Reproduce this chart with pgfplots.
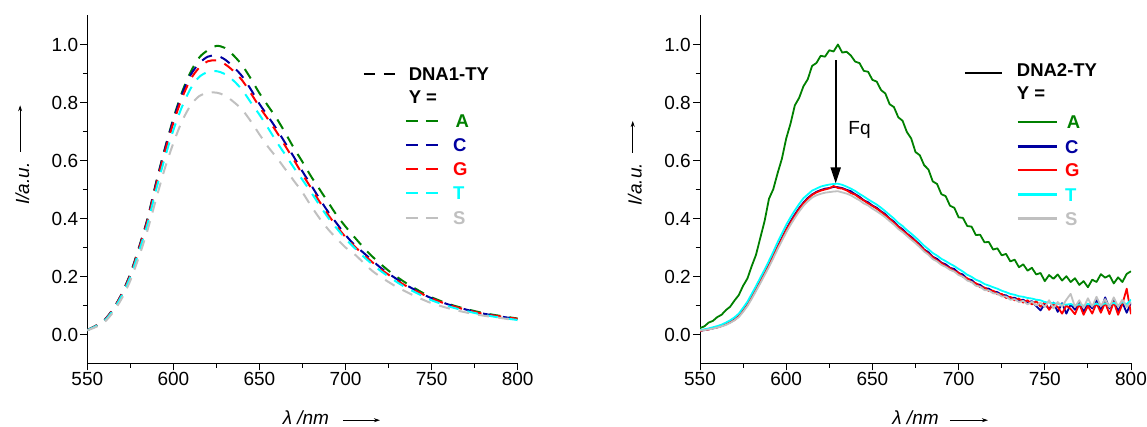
\documentclass[border=0pt]{standalone}
\usepackage{fontspec}
\setmainfont{Liberation Sans}
\usepackage{pgfplots}
\pgfplotsset{compat=1.18}
\usepackage{pgfplotstable}
\usetikzlibrary{arrows.meta}

\definecolor{cA}{RGB}{0,128,0}
\definecolor{cC}{RGB}{0,0,160}
\definecolor{cG}{RGB}{255,0,0}
\definecolor{cT}{RGB}{0,255,255}
\definecolor{cS}{RGB}{192,192,192}

\pgfplotstableread{
lam A C G T S
550 0.015 0.015 0.015 0.015 0.014
555 0.030 0.030 0.030 0.029 0.026
560 0.050 0.050 0.049 0.047 0.043
565 0.088 0.088 0.087 0.084 0.077
570 0.140 0.140 0.138 0.134 0.124
575 0.210 0.208 0.205 0.199 0.186
580 0.300 0.298 0.294 0.286 0.268
585 0.400 0.398 0.393 0.382 0.360
590 0.525 0.522 0.515 0.500 0.468
595 0.640 0.637 0.628 0.608 0.572
600 0.745 0.740 0.730 0.705 0.660
605 0.835 0.828 0.815 0.785 0.735
610 0.905 0.895 0.880 0.848 0.790
615 0.955 0.935 0.920 0.888 0.822
620 0.980 0.958 0.942 0.905 0.834
625 0.995 0.962 0.945 0.908 0.834
630 0.988 0.948 0.932 0.898 0.824
635 0.962 0.922 0.908 0.875 0.802
640 0.928 0.890 0.876 0.843 0.775
645 0.882 0.845 0.832 0.800 0.735
650 0.832 0.795 0.785 0.758 0.690
655 0.788 0.752 0.742 0.712 0.647
660 0.745 0.708 0.698 0.664 0.610
665 0.695 0.660 0.650 0.620 0.570
670 0.643 0.612 0.602 0.575 0.530
675 0.595 0.562 0.552 0.533 0.490
680 0.545 0.515 0.505 0.490 0.443
685 0.500 0.467 0.457 0.445 0.400
690 0.455 0.422 0.412 0.402 0.362
695 0.410 0.382 0.372 0.365 0.330
700 0.372 0.343 0.336 0.330 0.300
705 0.337 0.310 0.305 0.300 0.278
710 0.303 0.284 0.278 0.271 0.250
715 0.272 0.258 0.252 0.245 0.222
720 0.245 0.232 0.227 0.221 0.200
725 0.220 0.210 0.206 0.200 0.181
730 0.198 0.190 0.186 0.180 0.163
735 0.178 0.171 0.168 0.162 0.148
740 0.160 0.155 0.153 0.147 0.133
745 0.143 0.139 0.138 0.132 0.120
750 0.128 0.125 0.124 0.118 0.108
760 0.105 0.103 0.102 0.097 0.090
770 0.088 0.086 0.085 0.081 0.076
780 0.074 0.072 0.071 0.068 0.065
790 0.064 0.062 0.062 0.058 0.057
800 0.055 0.053 0.054 0.050 0.048
}\leftdata

\pgfplotstableread{
lam A C G T S
550 0.022 0.013 0.012 0.015 0.014
552.5 0.028 0.015 0.016 0.018 0.015
555 0.041 0.018 0.017 0.021 0.018
557.5 0.047 0.021 0.022 0.025 0.020
560 0.060 0.025 0.024 0.029 0.024
562.5 0.068 0.030 0.029 0.034 0.028
565 0.084 0.035 0.036 0.041 0.033
567.5 0.096 0.043 0.042 0.049 0.040
570 0.117 0.052 0.050 0.059 0.049
572.5 0.136 0.064 0.063 0.072 0.060
575 0.168 0.083 0.082 0.092 0.078
577.5 0.193 0.103 0.101 0.113 0.098
580 0.236 0.129 0.128 0.140 0.123
582.5 0.275 0.156 0.154 0.167 0.150
585 0.334 0.184 0.183 0.196 0.177
587.5 0.392 0.212 0.210 0.224 0.205
590 0.468 0.241 0.239 0.254 0.233
592.5 0.501 0.271 0.270 0.285 0.263
595 0.556 0.303 0.301 0.318 0.294
597.5 0.606 0.333 0.330 0.348 0.323
600 0.676 0.363 0.361 0.378 0.352
602.5 0.727 0.390 0.386 0.404 0.378
605 0.790 0.414 0.410 0.428 0.402
607.5 0.816 0.436 0.433 0.450 0.424
610 0.856 0.455 0.452 0.470 0.444
612.5 0.880 0.471 0.468 0.483 0.459
615 0.926 0.483 0.481 0.496 0.472
617.5 0.936 0.492 0.490 0.503 0.480
620 0.961 0.498 0.496 0.510 0.485
622.5 0.958 0.503 0.500 0.514 0.489
625 0.980 0.505 0.504 0.517 0.491
627.5 0.976 0.509 0.512 0.519 0.493
630 1.000 0.508 0.505 0.520 0.494
632.5 0.972 0.505 0.503 0.516 0.490
635 0.975 0.499 0.497 0.510 0.486
637.5 0.962 0.494 0.488 0.503 0.480
640 0.941 0.484 0.482 0.495 0.471
642.5 0.936 0.475 0.471 0.485 0.463
645 0.909 0.463 0.462 0.476 0.452
647.5 0.906 0.456 0.452 0.466 0.445
650 0.878 0.445 0.443 0.457 0.434
652.5 0.872 0.437 0.434 0.448 0.425
655 0.843 0.425 0.423 0.437 0.415
657.5 0.831 0.415 0.411 0.425 0.404
660 0.794 0.400 0.399 0.412 0.391
662.5 0.784 0.389 0.385 0.400 0.379
665 0.749 0.373 0.372 0.385 0.364
667.5 0.737 0.363 0.358 0.374 0.353
670 0.698 0.348 0.347 0.360 0.340
672.5 0.676 0.337 0.333 0.348 0.327
675 0.629 0.323 0.322 0.335 0.315
677.5 0.618 0.310 0.306 0.321 0.301
680 0.584 0.293 0.292 0.306 0.286
682.5 0.569 0.284 0.279 0.294 0.275
685 0.528 0.268 0.267 0.281 0.260
687.5 0.519 0.261 0.255 0.272 0.252
690 0.484 0.248 0.247 0.261 0.240
692.5 0.477 0.242 0.236 0.253 0.233
695 0.444 0.230 0.229 0.244 0.223
697.5 0.437 0.226 0.219 0.236 0.217
700 0.404 0.212 0.213 0.226 0.205
702.5 0.402 0.207 0.199 0.217 0.199
705 0.374 0.192 0.194 0.206 0.186
707.5 0.372 0.188 0.181 0.199 0.181
710 0.343 0.175 0.177 0.189 0.168
712.5 0.344 0.171 0.163 0.183 0.165
715 0.318 0.160 0.162 0.174 0.153
717.5 0.319 0.158 0.150 0.169 0.152
720 0.293 0.149 0.151 0.163 0.142
722.5 0.297 0.146 0.139 0.158 0.141
725 0.273 0.137 0.140 0.151 0.131
727.5 0.278 0.135 0.126 0.146 0.131
730 0.252 0.126 0.130 0.140 0.120
732.5 0.258 0.127 0.118 0.137 0.122
735 0.232 0.118 0.124 0.132 0.112
737.5 0.242 0.120 0.110 0.130 0.116
740 0.220 0.110 0.118 0.126 0.104
742.5 0.230 0.115 0.104 0.124 0.113
745 0.207 0.098 0.115 0.120 0.100
747.5 0.212 0.083 0.096 0.118 0.110
750 0.184 0.105 0.112 0.112 0.095
752.5 0.205 0.088 0.085 0.110 0.118
755 0.192 0.110 0.105 0.108 0.090
757.5 0.207 0.078 0.095 0.106 0.112
760 0.186 0.108 0.072 0.104 0.096
762.5 0.201 0.072 0.100 0.103 0.120
765 0.181 0.104 0.088 0.105 0.140
767.5 0.194 0.085 0.070 0.100 0.095
770 0.171 0.112 0.105 0.104 0.118
772.5 0.184 0.078 0.068 0.099 0.092
775 0.163 0.106 0.098 0.106 0.125
777.5 0.189 0.090 0.072 0.101 0.096
780 0.181 0.118 0.108 0.107 0.130
782.5 0.208 0.082 0.075 0.100 0.098
785 0.196 0.128 0.110 0.108 0.122
787.5 0.204 0.090 0.070 0.102 0.094
790 0.176 0.120 0.112 0.110 0.128
792.5 0.197 0.080 0.068 0.100 0.096
795 0.181 0.110 0.105 0.112 0.120
797.5 0.209 0.075 0.158 0.104 0.095
800 0.218 0.110 0.070 0.120 0.112
}\rightdata

\pgfplotsset{
  myaxis/.style={
    scale only axis, height=348pt,
    xmin=550, xmax=800, ymin=-0.1, ymax=1.1,
    axis x line*=bottom, axis y line*=left,
    tick align=outside,
    xtick={550,600,650,700,750,800},
    ytick={0,0.2,0.4,0.6,0.8,1.0},
    minor x tick num=1, minor y tick num=1,
    major tick length=7pt, minor tick length=4.3pt,
    every tick/.style={black, line width=1pt},
    axis line style={line width=1pt},
    tick label style={font=\fontsize{19}{23}\selectfont},
    /pgf/number format/assume math mode=true,
    yticklabel style={/pgf/number format/fixed,/pgf/number format/fixed zerofill,/pgf/number format/precision=1, inner sep=2pt},
    xticklabel style={inner sep=2pt},
    label style={font=\fontsize{19}{23}\selectfont},
    clip mode=individual,
  },
  dcurve/.style={line width=2pt, dash pattern=on 11pt off 9pt, line join=round, smooth},
  scurve/.style={line width=1.8pt, line join=round},
}

\begin{document}
\begin{tikzpicture}
\useasboundingbox (0,0) rectangle (1147pt,427pt);

% ---------------- left panel ----------------
\begin{axis}[myaxis, at={(87.3pt,63.5pt)}, anchor=south west, width=430.4pt,
  ylabel={\textit{I/a.u.}},
  ylabel style={at={(axis description cs:-0.151,0.517)}, anchor=center},
  xlabel={\textit{λ /nm}},
  xlabel style={at={(axis description cs:0.508,-0.157)}, anchor=center},
]
\addplot[dcurve, cA] table[x=lam, y=A] {\leftdata};
\addplot[dcurve, cC] table[x=lam, y=C] {\leftdata};
\addplot[dcurve, cG] table[x=lam, y=G] {\leftdata};
\addplot[dcurve, cT] table[x=lam, y=T] {\leftdata};
\addplot[dcurve, cS] table[x=lam, y=S] {\leftdata};

\draw[-{Stealth[length=6pt,width=4pt]}, line width=0.9pt] (axis description cs:-0.156,0.608) -- (axis description cs:-0.156,0.742);
\draw[-{Stealth[length=6pt,width=4pt]}, line width=0.9pt] (axis description cs:0.594,-0.163) -- (axis description cs:0.680,-0.163);

% legend
\draw[black, line width=2.2pt, dash pattern=on 11.7pt off 8.3pt] (axis cs:710.6,0.898) -- (axis cs:729,0.898);
\node[anchor=base west, inner sep=0pt, font=\bfseries\fontsize{18.5}{22}\selectfont] at (axis cs:736.6,0.875) {DNA1-TY};
\node[anchor=base west, inner sep=0pt, font=\bfseries\fontsize{18.5}{22}\selectfont] at (axis cs:736.6,0.795) {Y =};
\draw[cA, line width=2.2pt, dash pattern=on 11.7pt off 8.3pt] (axis cs:735.1,0.736) -- (axis cs:754.1,0.736);
\draw[cC, line width=2.2pt, dash pattern=on 11.7pt off 8.3pt] (axis cs:735.1,0.653) -- (axis cs:754.1,0.653);
\draw[cG, line width=2.2pt, dash pattern=on 11.7pt off 8.3pt] (axis cs:735.1,0.570) -- (axis cs:754.1,0.570);
\draw[cT, line width=2.2pt, dash pattern=on 11.7pt off 8.3pt] (axis cs:735.1,0.487) -- (axis cs:754.1,0.487);
\draw[cS, line width=2.2pt, dash pattern=on 11.7pt off 8.3pt] (axis cs:735.1,0.403) -- (axis cs:754.1,0.403);
\node[anchor=base west, inner sep=0pt, text=cA, font=\bfseries\fontsize{18.5}{22}\selectfont] at (axis cs:763.8,0.713) {A};
\node[anchor=base west, inner sep=0pt, text=cC, font=\bfseries\fontsize{18.5}{22}\selectfont] at (axis cs:762.4,0.630) {C};
\node[anchor=base west, inner sep=0pt, text=cG, font=\bfseries\fontsize{18.5}{22}\selectfont] at (axis cs:762.4,0.547) {G};
\node[anchor=base west, inner sep=0pt, text=cT, font=\bfseries\fontsize{18.5}{22}\selectfont] at (axis cs:762.4,0.464) {T};
\node[anchor=base west, inner sep=0pt, text=cS, font=\bfseries\fontsize{18.5}{22}\selectfont] at (axis cs:762.4,0.380) {S};
\end{axis}

% ---------------- right panel ----------------
\begin{axis}[myaxis, at={(700pt,63.5pt)}, anchor=south west, width=431pt,
  ylabel={\textit{I/a.u.}},
  ylabel style={at={(axis description cs:-0.151,0.515)}, anchor=center},
  xlabel={\textit{λ /nm}},
  xlabel style={at={(axis description cs:0.50,-0.157)}, anchor=center},
]
\addplot[scurve, cA] table[x=lam, y=A] {\rightdata};
\addplot[scurve, cC] table[x=lam, y=C] {\rightdata};
\addplot[scurve, cG] table[x=lam, y=G] {\rightdata};
\addplot[scurve, cT] table[x=lam, y=T] {\rightdata};
\addplot[scurve, cS] table[x=lam, y=S] {\rightdata};

\draw[-{Stealth[length=6pt,width=4pt]}, line width=0.9pt] (axis description cs:-0.156,0.605) -- (axis description cs:-0.156,0.697);
\draw[-{Stealth[length=6pt,width=4pt]}, line width=0.9pt] (axis description cs:0.580,-0.163) -- (axis description cs:0.668,-0.163);

% Fq arrow
\draw[-{Triangle[length=16pt,width=10pt]}, line width=2pt] (axis cs:628.7,0.945) -- (axis cs:628.7,0.521);
\node[anchor=base west, inner sep=0pt, font=\fontsize{19}{23}\selectfont] at (axis cs:636,0.688) {Fq};

% legend
\draw[black, line width=2.2pt] (axis cs:703.7,0.902) -- (axis cs:725,0.902);
\node[anchor=base west, inner sep=0pt, font=\bfseries\fontsize{18.5}{22}\selectfont] at (axis cs:733.7,0.891) {DNA2-TY};
\node[anchor=base west, inner sep=0pt, font=\bfseries\fontsize{18.5}{22}\selectfont] at (axis cs:733.7,0.810) {Y =};
\draw[cA, line width=2.2pt] (axis cs:734.3,0.734) -- (axis cs:756.9,0.734);
\draw[cC, line width=2.2pt] (axis cs:734.3,0.648) -- (axis cs:756.9,0.648);
\draw[cG, line width=2.2pt] (axis cs:734.3,0.567) -- (axis cs:756.9,0.567);
\draw[cT, line width=2.2pt] (axis cs:734.3,0.483) -- (axis cs:756.9,0.483);
\draw[cS, line width=2.2pt] (axis cs:734.3,0.400) -- (axis cs:756.9,0.400);
\node[anchor=base west, inner sep=0pt, text=cA, font=\bfseries\fontsize{18.5}{22}\selectfont] at (axis cs:762.7,0.711) {A};
\node[anchor=base west, inner sep=0pt, text=cC, font=\bfseries\fontsize{18.5}{22}\selectfont] at (axis cs:761.7,0.625) {C};
\node[anchor=base west, inner sep=0pt, text=cG, font=\bfseries\fontsize{18.5}{22}\selectfont] at (axis cs:761.7,0.544) {G};
\node[anchor=base west, inner sep=0pt, text=cT, font=\bfseries\fontsize{18.5}{22}\selectfont] at (axis cs:761.7,0.459) {T};
\node[anchor=base west, inner sep=0pt, text=cS, font=\bfseries\fontsize{18.5}{22}\selectfont] at (axis cs:761.7,0.376) {S};
\end{axis}
\end{tikzpicture}
\end{document}
